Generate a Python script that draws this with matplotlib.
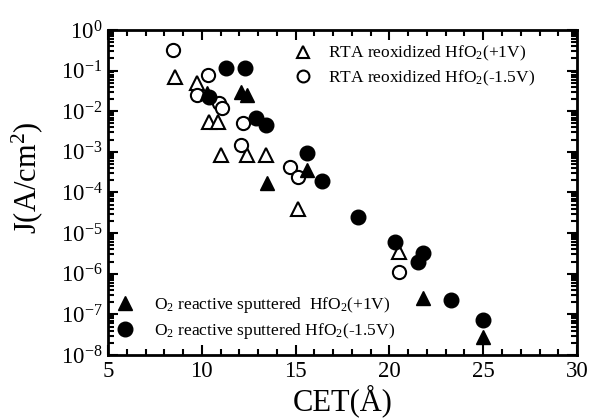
import matplotlib
matplotlib.use("Agg")
import matplotlib.pyplot as plt
from matplotlib.ticker import MultipleLocator, LogLocator, NullFormatter

plt.rcParams['font.family'] = ['Liberation Serif', 'DejaVu Serif']
plt.rcParams['mathtext.fontset'] = 'custom'
plt.rcParams['mathtext.rm'] = 'Liberation Serif'
plt.rcParams['mathtext.it'] = 'Liberation Serif:italic'
plt.rcParams['mathtext.bf'] = 'Liberation Serif:bold'

# RTA reoxidized HfO2 (+1V) - open triangles
rta_p_x = [8.57, 9.75, 10.4, 10.87, 11.0, 12.4, 13.4, 15.1, 20.5]
rta_p_y = [6.9e-2, 4.9e-2, 5.4e-3, 5.4e-3, 8.3e-4, 8.3e-4, 8.3e-4, 3.9e-5, 3.4e-6]

# RTA reoxidized HfO2 (-1.5V) - open circles
rta_n_x = [8.47, 10.33, 9.75, 10.9, 11.1, 12.2, 12.1, 14.7, 15.1, 20.5]
rta_n_y = [3.2e-1, 7.8e-2, 2.5e-2, 1.6e-2, 1.2e-2, 5.0e-3, 1.5e-3, 4.3e-4, 2.4e-4, 1.1e-6]

# O2 reactive sputtered HfO2 (+1V) - filled triangles
o2_p_x = [10.3, 12.1, 12.4, 13.5, 15.6, 21.8, 25.0]
o2_p_y = [2.8e-2, 3.0e-2, 2.5e-2, 1.7e-4, 3.5e-4, 2.5e-7, 2.7e-8]

# O2 reactive sputtered HfO2 (-1.5V) - filled circles
o2_n_x = [11.3, 12.3, 10.4, 12.9, 13.4, 15.6, 16.4, 18.3, 20.3, 21.5, 21.8, 23.3, 25.0]
o2_n_y = [1.15e-1, 1.15e-1, 2.2e-2, 6.8e-3, 4.6e-3, 9.3e-4, 1.9e-4, 2.5e-5, 6.0e-6,
          1.9e-6, 3.2e-6, 2.2e-7, 7.2e-8]

labels_top = ['RTA reoxidized HfO$_2$(+1V)', 'RTA reoxidized HfO$_2$(-1.5V)']
labels_bot = ['O$_2$ reactive sputtered  HfO$_2$(+1V)', 'O$_2$ reactive sputtered HfO$_2$(-1.5V)']

fig = plt.figure(figsize=(5.98, 4.2), dpi=100)
ax = fig.add_axes([0.1806, 0.1548, 0.7844, 0.7738])

h1, = ax.plot(rta_p_x, rta_p_y, ls='none', marker='^', ms=10, mfc='white', mec='black', mew=1.5)
h2, = ax.plot(rta_n_x, rta_n_y, ls='none', marker='o', ms=9.5, mfc='white', mec='black', mew=1.5)
h3, = ax.plot(o2_p_x, o2_p_y, ls='none', marker='^', ms=10.5, mfc='black', mec='black')
h4, = ax.plot(o2_n_x, o2_n_y, ls='none', marker='o', ms=10.5, mfc='black', mec='black')

ax.set_yscale('log')
ax.set_xlim(5, 30)
ax.set_ylim(1e-8, 1)
ax.xaxis.set_major_locator(MultipleLocator(5))
ax.xaxis.set_minor_locator(MultipleLocator(1))
ax.yaxis.set_major_locator(LogLocator(base=10, numticks=20))
ax.yaxis.set_minor_locator(LogLocator(base=10, subs=range(2, 10), numticks=20))
ax.yaxis.set_minor_formatter(NullFormatter())

for s in ax.spines.values():
    s.set_linewidth(2)
ax.tick_params(which='both', direction='in', top=True, right=True, width=1.5)
ax.tick_params(which='major', length=7, labelsize=16.5, pad=4)
ax.tick_params(which='minor', length=4)

ax.set_xlabel('CET(Å)', fontsize=22, labelpad=2)
ax.set_ylabel('J(A/cm$^2$)', fontsize=22)
ax.yaxis.set_label_coords(-0.135, 0.545)

leg1 = ax.legend([h1, h2], labels_top, loc='upper left', bbox_to_anchor=(0.345, 1.005),
                 frameon=False, fontsize=12.5, handletextpad=0.45, labelspacing=0.3,
                 markerscale=0.9)
ax.add_artist(leg1)
ax.legend([h3, h4], labels_bot, loc='lower left', bbox_to_anchor=(-0.035, -0.005),
          frameon=False, fontsize=12.5, handletextpad=0.7, labelspacing=0.35)

fig.savefig('out.png', dpi=100)
